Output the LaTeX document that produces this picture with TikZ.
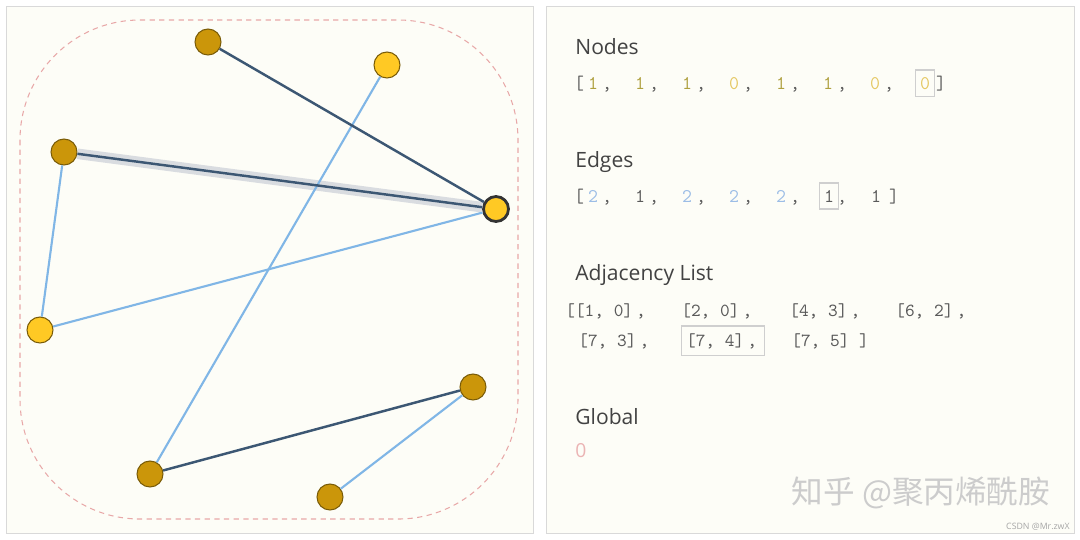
\documentclass[tikz,border=0pt]{standalone}
\usepackage{fontspec}
\setmainfont{Open Sans}
\newfontfamily\cjk{Noto Sans CJK SC}
\usetikzlibrary{positioning}
\definecolor{panelbg}{HTML}{FDFDF7}
\definecolor{panelline}{HTML}{D9D9D9}
\definecolor{hull}{HTML}{E8A8A8}
\definecolor{gold}{HTML}{CB960A}
\definecolor{sun}{HTML}{FFC924}
\definecolor{rim}{HTML}{7A5C08}
\definecolor{navy}{HTML}{3C5773}
\definecolor{sky}{HTML}{80B6E6}
\definecolor{glowgray}{HTML}{D9DCE0}
\definecolor{ink}{HTML}{424242}
\definecolor{listgray}{HTML}{5A5A5A}
\definecolor{boxline}{HTML}{CFCFCF}
\definecolor{olive}{HTML}{AFA03E}
\definecolor{pale}{HTML}{E5C864}
\definecolor{paleblue}{HTML}{9CBDE6}
\definecolor{rose}{HTML}{EBB4B4}
\tikzset{
  panel/.style={draw=panelline,fill=panelbg,line width=0.6pt},
  vtx1/.style={circle,draw=rim,fill=gold,minimum size=0.52cm,inner sep=0pt,line width=0.6pt},
  vtx0/.style={vtx1,fill=sun},
  vtxpick/.style={vtx0,draw=black!80,line width=1.6pt,minimum size=0.5cm},
  link1/.style={draw=navy,line width=1.4pt},
  link2/.style={draw=sky,line width=1.2pt},
  glow/.style={draw=glowgray,line width=6pt},
  heading/.style={anchor=base west,inner sep=0pt,text=ink,font=\fontsize{12}{14}\selectfont},
  listnum/.style={anchor=base,inner sep=0pt,font=\ttfamily\fontsize{11}{13}\selectfont},
  listpair/.style={anchor=base west,inner sep=0pt,text=listgray,font=\ttfamily\fontsize{10.5}{13}\selectfont},
  pickbox/.style={draw=boxline,line width=0.8pt,inner xsep=2.5pt,inner ysep=4pt},
  nv1/.style={text=olive}, nv0/.style={text=pale},
  ev1/.style={text=listgray}, ev2/.style={text=paleblue}
}

\begin{document}
\begin{tikzpicture}[x=0.02cm,y=-0.02cm]
\useasboundingbox (0,0) rectangle (1080,539);
\node[panel,minimum width=10.54cm,minimum height=10.54cm,anchor=north west] (graphpanel) at (6,6) {};
\node[panel,minimum width=10.56cm,minimum height=10.54cm,anchor=north west] (datapanel) at (546,6) {};
\draw[hull,line width=0.6pt,dash pattern=on 3pt off 2.5pt,rounded corners=2.4cm] (20,20) rectangle (518,519);

% graph
\foreach \i/\x/\y/\s in {0/473/387/vtx1,1/330/497/vtx1,2/150/474/vtx1,3/40/330/vtx0,
    4/64/152/vtx1,5/208/42/vtx1,6/387/65/vtx0,7/496/209/vtxpick}
  \node[\s] (v\i) at (\x,\y) {};
\draw[glow] (v7) -- (v4);
\foreach \a/\b/\k in {1/0/2,2/0/1,4/3/2,6/2/2,7/3/2,7/4/1,7/5/1}
  \draw[link\k] (v\a) -- (v\b);

% data
\node[heading] (nodeshead) at (575,54) {Nodes};
\node[listnum,text=listgray] (nodesopen) at (579,89) {[};
\foreach \v [count=\n from 0] in {1,1,1,0,1,1,0}
  \node[listnum,nv\v] (nval\n) at (593+47*\n,89) {\v};
\foreach \n in {0,...,6}
  \node[listnum,text=listgray] (ncomma\n) at (607+47*\n,89) {,};
\node[listnum,nv0,pickbox] (nval7) at (925,89) {0};
\node[listnum,text=listgray] (nodesclose) at (941,89) {]};

\node[heading] (edgeshead) at (575,167) {Edges};
\node[listnum,text=listgray] (edgesopen) at (579,202) {[};
\foreach \v [count=\n from 0] in {2,1,2,2,2}
  \node[listnum,ev\v] (eval\n) at (593+47*\n,202) {\v};
\node[listnum,ev1,pickbox] (eval5) at (829,202) {1};
\node[listnum,ev1] (eval6) at (876,202) {1};
\foreach \n in {0,...,5}
  \node[listnum,text=listgray] (ecomma\n) at (607+47*\n,202) {,};
\node[listnum,text=listgray] (edgesclose) at (894,202) {]};

\node[heading] (adjhead) at (575,280) {Adjacency List};
\node[listpair] (pair0) at (565,316) {[[1, 0]\,,};
\node[listpair] (pair1) at (681,316) {[2, 0]\,,};
\node[listpair] (pair2) at (789,316) {[4, 3]\,,};
\node[listpair] (pair3) at (895,316) {[6, 2]\,,};
\node[listpair] (pair4) at (578,346) {[7, 3]\,,};
\node[listpair,pickbox] (pair5) at (681,346) {[7, 4]\,,\,};
\node[listpair] (pair6) at (791,346) {[7, 5] ]};

\node[heading] (globalhead) at (575,424) {Global};
\node[heading,text=rose,font=\fontsize{11}{13}\selectfont] (globalval) at (575,457) {0};

\node[text=black!20,font=\cjk\fontsize{18}{20}\selectfont] (zhihu) at (921,493) {知乎 @聚丙烯酰胺};
\node[anchor=east,text=black!35,font=\fontsize{5}{6}\selectfont,inner sep=0pt] (csdn) at (1070,527) {CSDN @Mr.zwX};
\end{tikzpicture}
\end{document}
